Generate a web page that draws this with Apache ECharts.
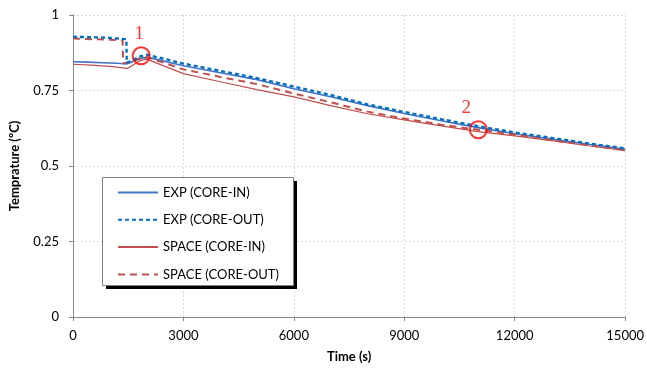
<!DOCTYPE html>
<html>
<head>
<meta charset="utf-8">
<script src="https://cdn.jsdelivr.net/npm/echarts@6/dist/echarts.min.js"></script>
<style>
html,body{margin:0;padding:0;background:#fff;}
#c{width:647px;height:373px;}
</style>
</head>
<body>
<div id="c"></div>
<script>
// ---- data ----
const seriesNames = ['EXP (CORE-IN)', 'EXP (CORE-OUT)', 'SPACE (CORE-IN)', 'SPACE (CORE-OUT)'];
const xTicks = [0, 3000, 6000, 9000, 12000, 15000];
const yTicks = [0, 0.25, 0.5, 0.75, 1];

const expInT = [0, 400, 800, 1200, 1450, 1550, 1700, 1900, 2100, 3000, 4000, 5000, 6000, 7000, 8000, 9000, 10000, 11000, 12000, 13000, 14000, 15000];
const expInV = [0.845, 0.844, 0.842, 0.840, 0.838, 0.842, 0.850, 0.858, 0.858, 0.832, 0.809, 0.786, 0.756, 0.729, 0.700, 0.674, 0.650, 0.627, 0.607, 0.589, 0.572, 0.555];

const expOutT = [0, 300, 600, 900, 1200, 1450, 1460, 1600, 1800, 2000, 3000, 4000, 5000, 6000, 7000, 8000, 9000, 10000, 11000, 12000, 13000, 14000, 15000];
const expOutV = [0.928, 0.927, 0.926, 0.925, 0.922, 0.920, 0.842, 0.848, 0.862, 0.869, 0.839, 0.815, 0.791, 0.763, 0.735, 0.704, 0.679, 0.655, 0.632, 0.611, 0.593, 0.575, 0.558];

const spaceInT = [0, 500, 1000, 1480, 1600, 1800, 2000, 3000, 4000, 5000, 6000, 7000, 8000, 9000, 10000, 11000, 12000, 13000, 14000, 15000];
const spaceInV = [0.837, 0.834, 0.830, 0.823, 0.832, 0.848, 0.854, 0.806, 0.779, 0.753, 0.729, 0.700, 0.673, 0.653, 0.633, 0.614, 0.600, 0.584, 0.567, 0.551];

const spaceOutT = [0, 500, 1000, 1350, 1360, 1500, 1800, 2000, 3000, 4000, 5000, 6000, 7000, 8000, 9000, 10000, 11000, 12000, 13000, 14000, 15000];
const spaceOutV = [0.922, 0.920, 0.918, 0.916, 0.840, 0.843, 0.856, 0.861, 0.820, 0.795, 0.771, 0.740, 0.711, 0.680, 0.657, 0.637, 0.620, 0.604, 0.586, 0.569, 0.553];

const markLabels = ['1', '2'];
const markT = [1852, 11012];
const markV = [0.865, 0.620];
// ---------------------------------------

const zip = (t, v) => t.map((x, i) => [x, v[i]]);
const FONT = 'Lato, "Open Sans", sans-serif';
const labelOffsets = [[-2, -22], [-12, -22]];

const chart = echarts.init(document.getElementById('c'), null, {renderer: 'canvas'});
chart.setOption({
  animation: false,
  backgroundColor: '#ffffff',
  grid: {left: 73, right: 20, top: 15, bottom: 56, containLabel: false},
  xAxis: {
    type: 'value', min: xTicks[0], max: xTicks[xTicks.length - 1], interval: 3000,
    name: 'Time (s)', nameLocation: 'middle', nameGap: 33,
    nameTextStyle: {fontFamily: FONT, fontWeight: 'bold', fontSize: 13, color: '#000'},
    axisLine: {lineStyle: {color: '#868686', width: 1}},
    axisTick: {show: true, length: 4, inside: false, lineStyle: {color: '#868686'}},
    axisLabel: {fontFamily: FONT, fontSize: 13, color: '#000', margin: 12, formatter: v => String(v)},
    splitLine: {show: true, lineStyle: {color: '#d9d9d9', type: [2, 2], width: 1}}
  },
  yAxis: {
    type: 'value', min: yTicks[0], max: yTicks[yTicks.length - 1], interval: 0.25,
    name: 'Temprature (ºC)', nameLocation: 'middle', nameGap: 52, nameRotate: 90,
    nameTextStyle: {fontFamily: FONT, fontWeight: 'bold', fontSize: 13, color: '#000'},
    axisLine: {show: true, lineStyle: {color: '#868686', width: 1}},
    axisTick: {show: true, length: 4, inside: false, lineStyle: {color: '#868686'}},
    axisLabel: {fontFamily: FONT, fontSize: 13, color: '#000', margin: 14},
    splitLine: {show: true, lineStyle: {color: '#d9d9d9', type: [2, 2], width: 1}}
  },
  legend: {
    data: seriesNames,
    orient: 'vertical', left: 117, top: 186, padding: 0,
    itemWidth: 40, itemHeight: 14, itemGap: 14.3,
    itemStyle: {opacity: 0},
    textStyle: {fontFamily: FONT, fontSize: 13, color: '#000'},
    itemTextGap: 6, z: 10, selectedMode: false
  },
  graphic: [
    {type: 'rect', z: 8, left: 106, top: 181, shape: {width: 191, height: 108}, style: {fill: '#000'}},
    {type: 'rect', z: 9, left: 102, top: 177, shape: {width: 191, height: 108}, style: {fill: '#fff', stroke: '#7f7f7f', lineWidth: 1}}
  ],
  series: [
    {name: seriesNames[0], type: 'line', data: zip(expInT, expInV), symbol: 'none', z: 3,
      lineStyle: {color: '#4472c4', width: 1.6, type: 'solid'}, itemStyle: {color: '#4472c4'}},
    {name: seriesNames[1], type: 'line', data: zip(expOutT, expOutV), symbol: 'none', z: 4,
      lineStyle: {color: '#0070c0', width: 2.4, type: [4, 3]}, itemStyle: {color: '#0070c0'}},
    {name: seriesNames[2], type: 'line', data: zip(spaceInT, spaceInV), symbol: 'none', z: 3,
      lineStyle: {color: '#c0504d', width: 1.2, type: 'solid'}, itemStyle: {color: '#c0504d'}},
    {name: seriesNames[3], type: 'line', data: zip(spaceOutT, spaceOutV), symbol: 'none', z: 3,
      lineStyle: {color: '#c0504d', width: 2, type: [7, 5]}, itemStyle: {color: '#c0504d'}},
    {name: 'marks', type: 'scatter', z: 6, symbol: 'circle', symbolSize: 17,
      itemStyle: {color: 'rgba(0,0,0,0)', borderColor: '#ff0000', borderWidth: 2},
      data: markT.map((t, i) => ({
        value: [t, markV[i]],
        label: {show: true, formatter: markLabels[i], position: 'inside', offset: labelOffsets[i],
          color: '#ff0000', fontFamily: '"Liberation Serif", "DejaVu Serif", serif', fontSize: 19}
      }))
    }
  ]
});
</script>
</body>
</html>
